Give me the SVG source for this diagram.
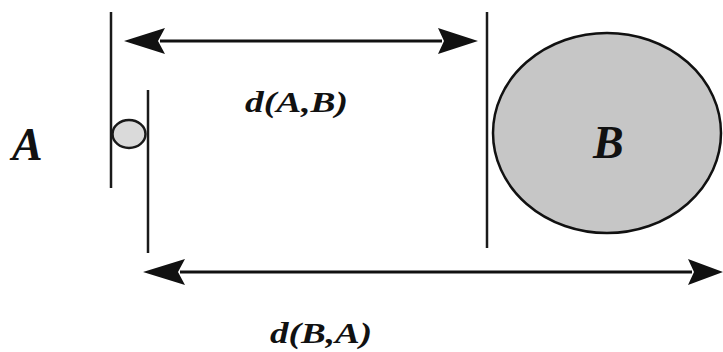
<svg xmlns="http://www.w3.org/2000/svg" width="723" height="352" viewBox="0 0 723 352">
<style>
.ln{stroke:#1a1a1a;stroke-width:2.5;fill:none}
.arr{stroke:#111;stroke-width:3;fill:none}
.head{fill:#111}
.lbl{font-family:"Liberation Serif","Times New Roman",serif;font-weight:bold;font-style:italic;fill:#111}
</style>
<rect width="723" height="352" fill="#fff"/>
<g id="A">
<line class="ln" x1="111" y1="12" x2="111" y2="188"/>
<line class="ln" x1="148" y1="90" x2="148" y2="253"/>
<ellipse cx="129" cy="134" rx="16.5" ry="14" fill="#dadada" stroke="#1a1a1a" stroke-width="2.5"/>
<text class="lbl" x="12" y="160" font-size="46">A</text>
</g>
<g id="B">
<line class="ln" x1="487" y1="12" x2="487" y2="248"/>
<ellipse cx="607" cy="133" rx="114" ry="100" fill="#c6c6c6" stroke="#111" stroke-width="2.5"/>
<text class="lbl" x="593" y="158" font-size="46">B</text>
</g>
<g id="connectors">
<line class="arr" x1="160" y1="41" x2="442" y2="41"/>
<polygon class="head" points="124,41 165,28 158,41 165,54"/>
<polygon class="head" points="478,41 438,28 444,41 438,54"/>
<line class="arr" x1="180" y1="272" x2="692" y2="272"/>
<polygon class="head" points="143,272 185,259 178,272 185,285"/>
<polygon class="head" points="723,272 688,259 694,272 688,285"/>
</g>
<g id="labels">
<text class="lbl" x="245" y="112" font-size="30" textLength="103" lengthAdjust="spacingAndGlyphs">d(A,B)</text>
<text class="lbl" x="270" y="343" font-size="30" textLength="102" lengthAdjust="spacingAndGlyphs">d(B,A)</text>
</g>
</svg>
